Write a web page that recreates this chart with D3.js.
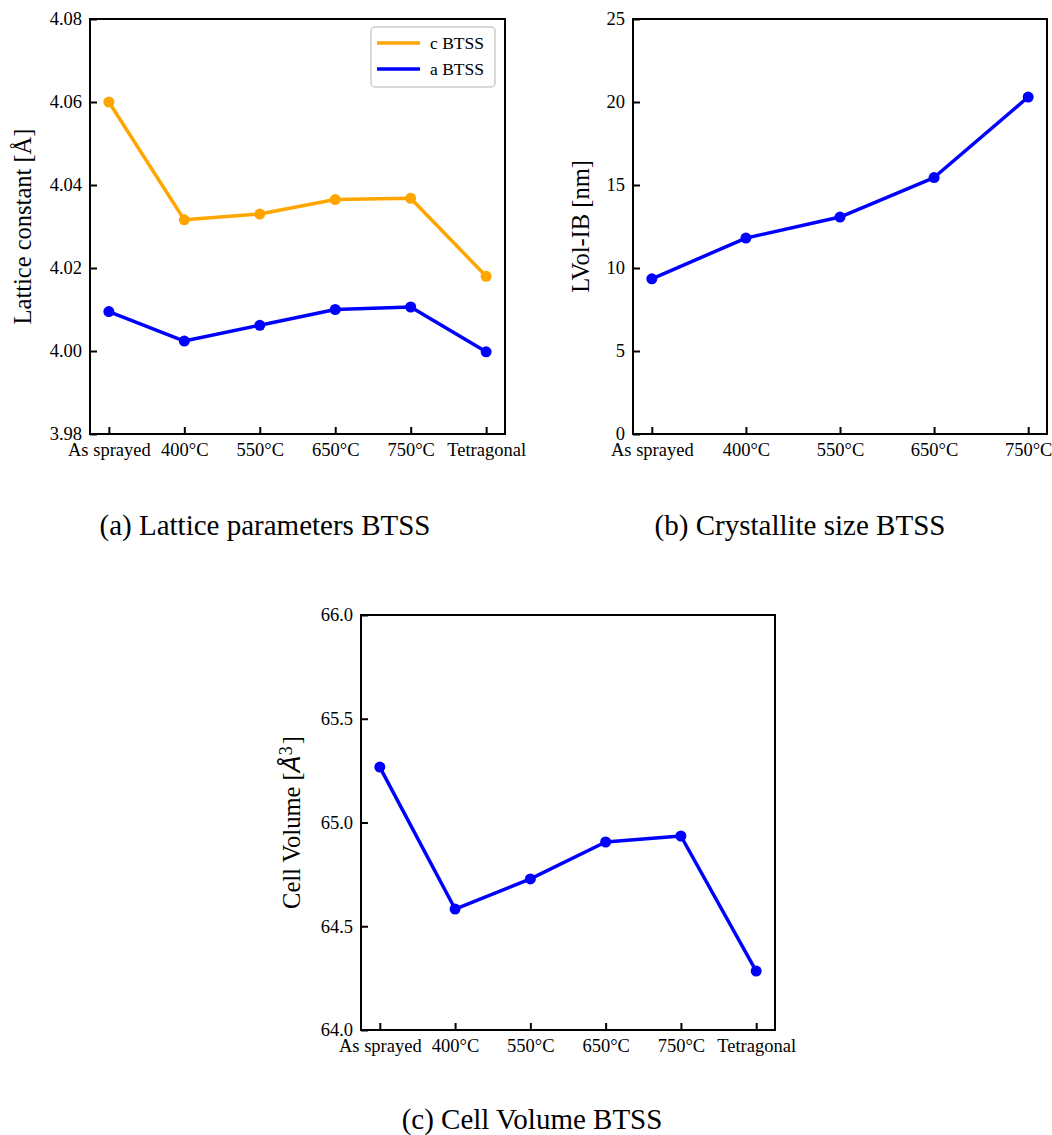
<!DOCTYPE html>
<html>
<head>
<meta charset="utf-8">
<script src="https://cdn.jsdelivr.net/npm/d3@7"></script>
<style>
  body { margin: 0; background: #fff; }
  text { font-family: "Liberation Serif", "Times New Roman", serif; fill: #000; }
</style>
</head>
<body>
<div id="chart"></div>
<script>
// categories
var categoriesLattice = ["As sprayed", "400°C", "550°C", "650°C", "750°C", "Tetragonal"];
var categoriesSize = ["As sprayed", "400°C", "550°C", "650°C", "750°C"];

// series values
var cBTSS = [4.0600, 4.0316, 4.0330, 4.0365, 4.0368, 4.0180];
var aBTSS = [4.0095, 4.0024, 4.0062, 4.0100, 4.0106, 3.9998];
var lvolIB = [9.35, 11.8, 13.07, 15.45, 20.3];
var cellVolume = [65.267, 64.583, 64.728, 64.906, 64.935, 64.284];

// tick labels
var yTicksLattice = [3.98, 4.00, 4.02, 4.04, 4.06, 4.08];
var yTicksSize = [0, 5, 10, 15, 20, 25];
var yTicksVolume = [64.0, 64.5, 65.0, 65.5, 66.0];

var orange = "#FFA500", blue = "#0000FF";

var svg = d3.select("#chart").append("svg")
  .attr("width", 1052)
  .attr("height", 1135);

function drawPanel(p) {
  var n = p.categories.length;
  var pad = (n - 1) * 0.05;   // matplotlib style 5% margins
  var x = d3.scaleLinear()
    .domain([-pad, n - 1 + pad])
    .range([p.left, p.right]);
  var y = d3.scaleLinear()
    .domain(p.yDomain)
    .range([p.bottom, p.top]);

  var g = svg.append("g");

  // y axis, ticks pointing inward
  g.append("g")
    .attr("transform", "translate(" + p.left + ",0)")
    .call(d3.axisLeft(y).tickValues(p.yTicks).tickFormat(p.yFormat)
      .tickSizeInner(-7).tickSizeOuter(0).tickPadding(8))
    .call(function(a) {
      a.select(".domain").remove();
      a.selectAll("line").attr("stroke-width", 2);
      a.selectAll("text").style("font-size", "18.5px").style("font-family", "Liberation Serif");
    });

  // x axis
  g.append("g")
    .attr("transform", "translate(0," + p.bottom + ")")
    .call(d3.axisBottom(x).tickValues(d3.range(n)).tickFormat(function(i) { return p.categories[i]; })
      .tickSizeInner(-7).tickSizeOuter(0).tickPadding(9))
    .call(function(a) {
      a.select(".domain").remove();
      a.selectAll("line").attr("stroke-width", 2);
      a.selectAll("text").style("font-size", "18.5px").style("font-family", "Liberation Serif");
    });

  // frame
  g.append("rect")
    .attr("x", p.left).attr("y", p.top)
    .attr("width", p.right - p.left).attr("height", p.bottom - p.top)
    .attr("fill", "none").attr("stroke", "#000").attr("stroke-width", 2);

  var line = d3.line()
    .x(function(d, i) { return x(i); })
    .y(function(d) { return y(d); });

  p.series.forEach(function(s) {
    g.append("path")
      .datum(s.values)
      .attr("fill", "none")
      .attr("stroke", s.color)
      .attr("stroke-width", 3.5)
      .attr("stroke-linejoin", "round")
      .attr("d", line);
    g.append("g")
      .selectAll("circle")
      .data(s.values)
      .enter()
      .append("circle")
        .attr("cx", function(d, i) { return x(i); })
        .attr("cy", function(d) { return y(d); })
        .attr("r", 5.5)
        .attr("fill", s.color);
  });

  // y label
  var lab = g.append("text")
    .attr("transform", "translate(" + p.labelX + "," + ((p.top + p.bottom) / 2) + ") rotate(-90)")
    .attr("text-anchor", "middle")
    .style("font-size", "24.5px");
  p.label(lab);

  // caption
  g.append("text")
    .attr("x", p.captionX)
    .attr("y", p.captionY)
    .attr("text-anchor", "middle")
    .style("font-size", "29px")
    .text(p.caption);

  if (p.legend) {
    var lg = g.append("g")
      .attr("transform", "translate(" + (p.right - 134) + "," + (p.top + 8) + ")");
    lg.append("rect")
      .attr("width", 124).attr("height", 60).attr("rx", 4)
      .attr("fill", "#fff").attr("fill-opacity", 0.8)
      .attr("stroke", "#cccccc").attr("stroke-width", 1.5);
    p.series.forEach(function(s, i) {
      lg.append("line")
        .attr("x1", 6).attr("x2", 49)
        .attr("y1", 16 + i * 26).attr("y2", 16 + i * 26)
        .attr("stroke", s.color).attr("stroke-width", 3.5);
      lg.append("text")
        .attr("x", 59).attr("y", 22 + i * 26)
        .style("font-size", "17.5px")
        .text(s.name);
    });
  }
}

drawPanel({
  categories: categoriesLattice,
  left: 90, right: 505, top: 19, bottom: 434,
  yDomain: [3.98, 4.08], yTicks: yTicksLattice, yFormat: d3.format(".2f"),
  series: [
    {name: "c BTSS", values: cBTSS, color: orange},
    {name: "a BTSS", values: aBTSS, color: blue}
  ],
  legend: true,
  labelX: 31,
  label: function(t) { t.text("Lattice constant [Å]"); },
  caption: "(a) Lattice parameters BTSS", captionX: 265, captionY: 535
});

drawPanel({
  categories: categoriesSize,
  left: 633, right: 1047, top: 19, bottom: 434,
  yDomain: [0, 25], yTicks: yTicksSize, yFormat: d3.format("d"),
  series: [{name: "LVol-IB", values: lvolIB, color: blue}],
  legend: false,
  labelX: 589,
  label: function(t) { t.text("LVol-IB [nm]"); },
  caption: "(b) Crystallite size BTSS", captionX: 800, captionY: 535
});

drawPanel({
  categories: categoriesLattice,
  left: 361, right: 775, top: 615, bottom: 1030,
  yDomain: [64.0, 66.0], yTicks: yTicksVolume, yFormat: d3.format(".1f"),
  series: [{name: "Cell Volume", values: cellVolume, color: blue}],
  legend: false,
  labelX: 300,
  label: function(t) {
    t.append("tspan").text("Cell Volume [");
    t.append("tspan").style("font-family", "DejaVu Sans").style("font-style", "italic").style("font-size", "25px").text("Å");
    t.append("tspan").attr("dy", "-0.45em").style("font-size", "18px").text("3");
    t.append("tspan").attr("dx", "2").attr("dy", "0.33em").text("]");
  },
  caption: "(c) Cell Volume BTSS", captionX: 532, captionY: 1129
});
</script>
</body>
</html>
